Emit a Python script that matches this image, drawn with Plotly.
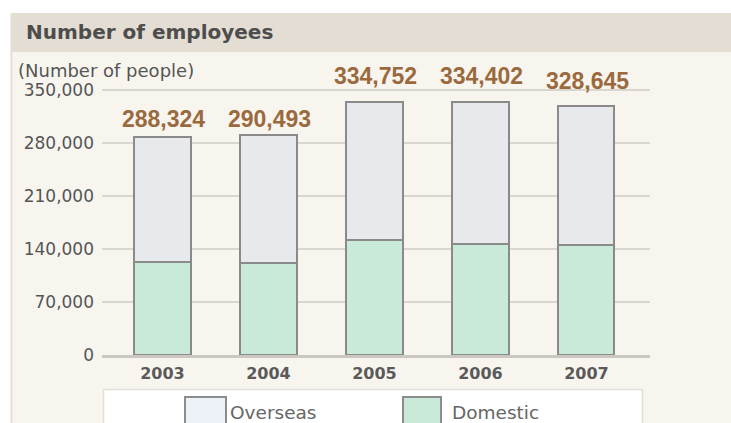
import plotly.graph_objects as go

# ---- data ----
years = ["2003", "2004", "2005", "2006", "2007"]
totals = [288324, 290493, 334752, 334402, 328645]
domestic = [122400, 121900, 151900, 146200, 145300]
overseas = [165900, 168600, 182900, 188200, 183300]
series_names = ["Overseas", "Domestic"]
y_ticks = [0, 70000, 140000, 210000, 280000, 350000]

W, H = 731, 423
FIG_H = 433
def px(x):
    return x / W
def py(y):
    return 1 - y / H

FONT = "DejaVu Sans"
BAR_LINE = dict(color="#8a8a8a", width=2)
COL_OVER = "#e8e9ec"
COL_DOM = "#c9ead8"

fig = go.Figure()
fig.add_trace(go.Bar(x=years, y=domestic, name=series_names[1],
                     marker=dict(color=COL_DOM, line=BAR_LINE), showlegend=False))
fig.add_trace(go.Bar(x=years, y=overseas, name=series_names[0],
                     marker=dict(color=COL_OVER, line=BAR_LINE), showlegend=False))

y_top = 350000 * (355 - 80) / (355 - 90)

shapes = [
    # panel body
    dict(type="rect", xref="paper", yref="paper", x0=px(11), x1=1, y0=0, y1=py(13),
         fillcolor="#f8f5ef", line=dict(width=0), layer="below"),
    dict(type="line", xref="paper", yref="paper", x0=px(11.5), x1=px(11.5), y0=0, y1=py(13),
         line=dict(color="#e6dfd6", width=2), layer="below"),
    # header band
    dict(type="rect", xref="paper", yref="paper", x0=px(11), x1=1, y0=py(52), y1=py(13),
         fillcolor="#e4ddd3", line=dict(width=0), layer="below"),
    # legend box
    dict(type="rect", xref="paper", yref="paper", x0=px(103), x1=px(643), y0=0, y1=py(389),
         fillcolor="#ffffff", line=dict(width=0), layer="above"),
    dict(type="path", xref="paper", yref="paper",
         path=f"M {px(103.5)} 0 L {px(103.5)} {py(389.5)} L {px(642.5)} {py(389.5)} L {px(642.5)} 0",
         line=dict(color="#e2ddd5", width=1.5), layer="above"),
    # legend swatches
    dict(type="path", xref="paper", yref="paper",
         path=f"M {px(185)} 0 L {px(185)} {py(397)} L {px(226)} {py(397)} L {px(226)} 0",
         fillcolor="#edf1f8", line=dict(color="#8c8c8c", width=2), layer="above"),
    dict(type="path", xref="paper", yref="paper",
         path=f"M {px(403)} 0 L {px(403)} {py(397)} L {px(441)} {py(397)} L {px(441)} 0",
         fillcolor=COL_DOM, line=dict(color="#8c8c8c", width=2), layer="above"),
]

annotations = [
    dict(text="Number of employees", xref="paper", yref="paper", x=px(24), y=py(32),
         xanchor="left", yanchor="middle", showarrow=False,
         font=dict(family=FONT, size=20, color="#4d4d4d", weight="bold")),
    dict(text="(Number of people)", xref="paper", yref="paper", x=px(16), y=py(70),
         xanchor="left", yanchor="middle", showarrow=False,
         font=dict(family=FONT, size=18, color="#555555")),
    dict(text=series_names[0], xref="paper", yref="paper", x=px(228), y=py(412),
         xanchor="left", yanchor="middle", showarrow=False,
         font=dict(family=FONT, size=18.5, color="#666666")),
    dict(text=series_names[1], xref="paper", yref="paper", x=px(450), y=py(412),
         xanchor="left", yanchor="middle", showarrow=False,
         font=dict(family=FONT, size=18.5, color="#666666")),
]

label_shift = [18, 16, 26, 26, 25]
for i, (tot, sh) in enumerate(zip(totals, label_shift)):
    annotations.append(dict(text=f"{tot:,}", x=i, y=tot, xref="x", yref="y",
                            xanchor="center", yanchor="middle", yshift=sh, xshift=1,
                            showarrow=False,
                            font=dict(family="Liberation Sans", size=23, color="#9a6a3e", weight="bold")))

fig.update_layout(
    width=W, height=FIG_H,
    margin=dict(l=0, r=0, t=0, b=0),
    paper_bgcolor="#ffffff",
    plot_bgcolor="rgba(0,0,0,0)",
    barmode="stack",
    bargap=0.47,
    showlegend=False,
    shapes=shapes,
    annotations=annotations,
    xaxis=dict(domain=[px(102), px(650)], type="category", range=[-0.57, 4.6],
               showline=True, linecolor="#cbc7c1", linewidth=2.5, showgrid=False,
               ticks="", ticklabelstandoff=2,
               tickfont=dict(family=FONT, size=16, color="#5a5a5a", weight="bold")),
    yaxis=dict(domain=[py(355), py(80)], range=[0, y_top],
               tickvals=y_ticks, ticktext=[f"{v:,}" for v in y_ticks],
               showgrid=True, gridcolor="#d9d5cf", gridwidth=1.5,
               zeroline=False, showline=False, ticks="", ticklabelstandoff=7,
               tickfont=dict(family=FONT, size=17, color="#555555")),
)

css_fix = (
    "var s=document.createElement('style');"
    "s.textContent='html,body{margin:0!important;padding:0!important;overflow:hidden!important;}';"
    "document.head.appendChild(s);"
)

fig.write_html("out.html", config={"displayModeBar": False}, post_script=css_fix)
